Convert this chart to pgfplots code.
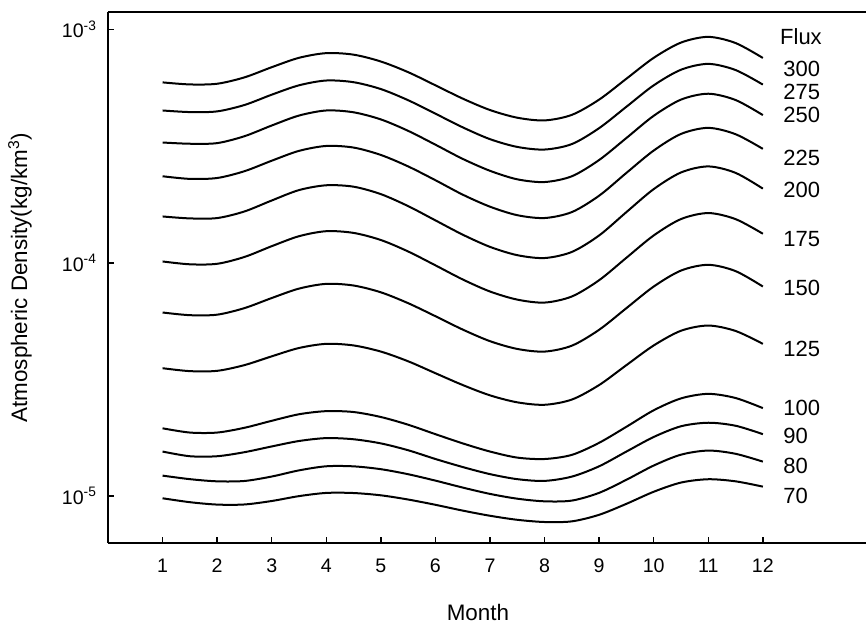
\documentclass[border=0pt]{standalone}
\usepackage{fontspec}
\setmainfont{Liberation Sans}
\usepackage{pgfplots}
\usepackage{pgfplotstable}
\pgfplotsset{compat=1.18}
\pgfplotstableread{
month f300 f275 f250 f225 f200 f175 f150 f125 f100 f90 f80 f70
1    5.94e-4 4.50e-4 3.28e-4 2.35e-4 1.58e-4  1.013e-4 6.12e-5 3.53e-5 1.95e-5 1.55e-5 1.222e-5 9.77e-6
1.5  5.82e-4 4.43e-4 3.24e-4 2.29e-4 1.55e-4  9.85e-5  5.96e-5 3.43e-5 1.87e-5 1.48e-5 1.180e-5 9.40e-6
2    5.86e-4 4.46e-4 3.26e-4 2.31e-4 1.555e-4 9.90e-5  5.99e-5 3.44e-5 1.87e-5 1.48e-5 1.155e-5 9.18e-6
2.5  6.24e-4 4.75e-4 3.49e-4 2.47e-4 1.66e-4  1.059e-4 6.39e-5 3.64e-5 1.96e-5 1.54e-5 1.159e-5 9.19e-6
3    6.90e-4 5.26e-4 3.88e-4 2.74e-4 1.85e-4  1.178e-4 7.06e-5 3.97e-5 2.10e-5 1.63e-5 1.211e-5 9.51e-6
3.5  7.57e-4 5.77e-4 4.28e-4 3.02e-4 2.05e-4  1.300e-4 7.75e-5 4.31e-5 2.24e-5 1.72e-5 1.287e-5 9.98e-6
4    7.93e-4 6.05e-4 4.50e-4 3.17e-4 2.15e-4  1.366e-4 8.12e-5 4.49e-5 2.31e-5 1.77e-5 1.340e-5 1.030e-5
4.5  7.81e-4 5.95e-4 4.42e-4 3.12e-4 2.12e-4  1.343e-4 7.99e-5 4.42e-5 2.29e-5 1.75e-5 1.339e-5 1.029e-5
5    7.30e-4 5.56e-4 4.12e-4 2.90e-4 1.97e-4  1.252e-4 7.47e-5 4.16e-5 2.18e-5 1.68e-5 1.302e-5 1.006e-5
5.5  6.57e-4 4.98e-4 3.68e-4 2.59e-4 1.75e-4  1.118e-4 6.71e-5 3.78e-5 2.02e-5 1.57e-5 1.239e-5 9.65e-6
6    5.77e-4 4.36e-4 3.21e-4 2.26e-4 1.52e-4  9.75e-5  5.90e-5 3.36e-5 1.84e-5 1.44e-5 1.163e-5 9.16e-6
6.5  5.06e-4 3.81e-4 2.79e-4 1.96e-4 1.32e-4  8.48e-5  5.17e-5 2.99e-5 1.68e-5 1.33e-5 1.086e-5 8.65e-6
7    4.52e-4 3.39e-4 2.48e-4 1.74e-4 1.17e-4  7.53e-5  4.61e-5 2.70e-5 1.55e-5 1.24e-5 1.020e-5 8.22e-6
7.5  4.19e-4 3.14e-4 2.28e-4 1.60e-4 1.078e-4 6.95e-5  4.27e-5 2.52e-5 1.46e-5 1.18e-5 9.73e-6  7.90e-6
8    4.08e-4 3.06e-4 2.22e-4 1.556e-4 1.048e-4 6.75e-5 4.16e-5 2.46e-5 1.44e-5 1.16e-5 9.48e-6  7.73e-6
8.5  4.31e-4 3.23e-4 2.35e-4 1.65e-4 1.113e-4 7.17e-5  4.41e-5 2.59e-5 1.50e-5 1.21e-5 9.55e-6  7.78e-6
9    5.01e-4 3.78e-4 2.76e-4 1.94e-4 1.31e-4  8.42e-5  5.16e-5 2.99e-5 1.69e-5 1.34e-5 1.031e-5 8.30e-6
9.5  6.16e-4 4.67e-4 3.43e-4 2.43e-4 1.65e-4  1.051e-4 6.39e-5 3.64e-5 1.98e-5 1.55e-5 1.173e-5 9.25e-6
10   7.57e-4 5.77e-4 4.27e-4 3.03e-4 2.07e-4  1.310e-4 7.91e-5 4.42e-5 2.33e-5 1.79e-5 1.350e-5 1.042e-5
10.5 8.80e-4 6.73e-4 5.01e-4 3.57e-4 2.44e-4  1.540e-4 9.26e-5 5.11e-5 2.62e-5 1.99e-5 1.503e-5 1.141e-5
11   9.31e-4 7.13e-4 5.31e-4 3.79e-4 2.59e-4  1.634e-4 9.80e-5 5.38e-5 2.74e-5 2.06e-5 1.565e-5 1.179e-5
11.5 8.76e-4 6.71e-4 4.99e-4 3.56e-4 2.43e-4  1.539e-4 9.21e-5 5.10e-5 2.63e-5 2.00e-5 1.516e-5 1.155e-5
12   7.56e-4 5.81e-4 4.30e-4 3.08e-4 2.08e-4  1.332e-4 7.91e-5 4.49e-5 2.38e-5 1.84e-5 1.403e-5 1.096e-5
}\dens
\begin{document}
\begin{tikzpicture}
\path[use as bounding box] (-54pt,-40pt) rectangle (379pt,271.5pt);
\begin{axis}[
  at={(0pt,0pt)}, anchor=south west,
  width=379pt, height=265.5pt, scale only axis,
  xmin=0, xmax=13.89,
  ymode=log, ymin=6.28e-6, ymax=1.19e-3,
  axis lines*=left,
  axis line style={-, line width=0.75pt},
  xtick={1,2,3,4,5,6,7,8,9,10,11,12},
  ytick={1e-5,1e-4,1e-3},
  yticklabels={10\textsuperscript{-5},10\textsuperscript{-4},10\textsuperscript{-3}},
  yminorticks=false, xminorticks=false,
  tick align=inside,
  major tick length=3pt,
  tick style={line width=0.75pt, black},
  /pgf/number format/assume math mode=true,
  tick label style={font=\fontsize{9.8}{11}\selectfont},
  xticklabel style={yshift=-4.5pt},
  yticklabel style={xshift=-2pt},
  label style={font=\fontsize{11.2}{13}\selectfont},
  xlabel={Month},
  xlabel style={at={(axis description cs:0.488,-0.13)}, anchor=center},
  ylabel={Atmospheric Density(kg/km\textsuperscript{3})},
  ylabel style={at={(axis description cs:-0.116,0.5)}, anchor=center},
  clip=false,
]
\draw[line width=0.75pt] (rel axis cs:0,1) -- (rel axis cs:1,1);
\foreach \c in {f300,f275,f250,f225,f200,f175,f150,f125,f100,f90,f80,f70}{
  \addplot[black, line width=1pt, smooth] table[x=month, y=\c] {\dens};
}
\begin{scope}[every node/.style={anchor=west, font=\fontsize{11}{13}\selectfont, inner sep=0pt}]
\node at (axis cs:12.31,9.33e-4) {Flux};
\node at (axis cs:12.37,6.80e-4) {300};
\node at (axis cs:12.37,5.42e-4) {275};
\node at (axis cs:12.37,4.32e-4) {250};
\node at (axis cs:12.37,2.82e-4) {225};
\node at (axis cs:12.37,2.06e-4) {200};
\node at (axis cs:12.37,1.264e-4) {175};
\node at (axis cs:12.37,7.83e-5) {150};
\node at (axis cs:12.37,4.26e-5) {125};
\node at (axis cs:12.37,2.39e-5) {100};
\node at (axis cs:12.37,1.815e-5) {90};
\node at (axis cs:12.37,1.349e-5) {80};
\node at (axis cs:12.37,1.0e-5) {70};
\end{scope}
\end{axis}
\end{tikzpicture}
\end{document}
